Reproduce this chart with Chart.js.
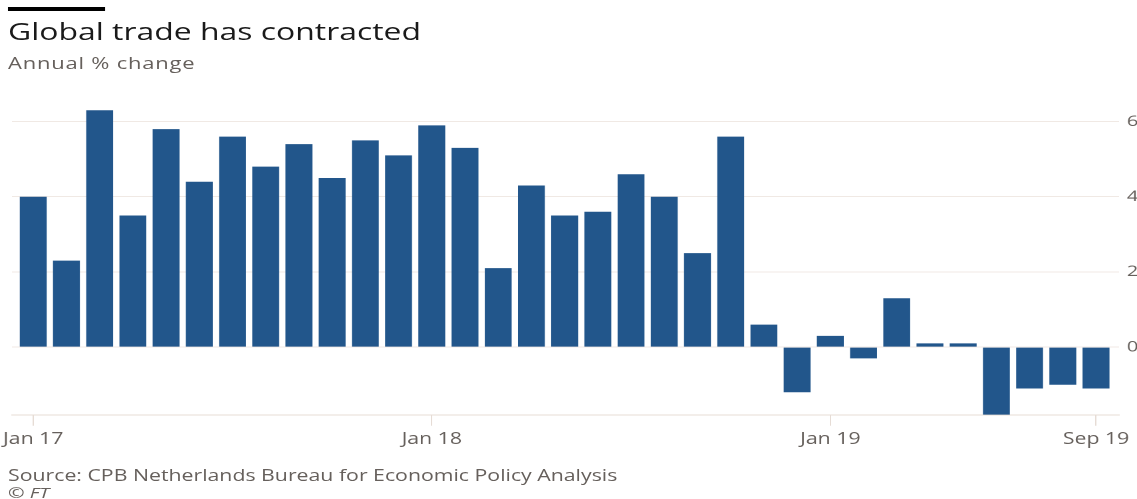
<!DOCTYPE html>
<html>
<head>
<meta charset="utf-8">
<script src="https://cdn.jsdelivr.net/npm/chart.js@4"></script>
<style>
  html, body { margin: 0; padding: 0; background: #fff; overflow: hidden; }
  body { width: 1137px; height: 499px; position: relative; font-family: "Open Sans", sans-serif; }
  /* the source graphic is stretched horizontally, so lay out at 855px and stretch */
  #stage { position: absolute; left: 0; top: 0; width: 855px; height: 499px; transform: scaleX(1.3298); transform-origin: 0 0; }
  .bar { position: absolute; left: 6px; top: 7px; width: 73px; height: 4px; background: #000; }
  .title { position: absolute; left: 6px; top: 14px; font-size: 24px; color: #1a1a1a; white-space: nowrap; }
  .sub { position: absolute; left: 6px; top: 51px; font-size: 16.5px; color: #66605c; letter-spacing: 0.6px; white-space: nowrap; }
  .src { position: absolute; left: 6px; top: 464px; font-size: 16px; color: #66605c; white-space: nowrap; }
  .ft { position: absolute; left: 6px; top: 482px; font-size: 15px; color: #66605c; font-style: italic; white-space: nowrap; }
  #wrap { position: absolute; left: -30px; top: 84px; width: 892px; height: 369px; }
</style>
</head>
<body>
<div id="stage">
<div class="bar"></div>
<div class="title">Global trade has contracted</div>
<div class="sub">Annual % change</div>
<div class="src">Source: CPB Netherlands Bureau for Economic Policy Analysis</div>
<div class="ft">© FT</div>
<div id="wrap"><canvas id="chart"></canvas></div>
</div>
<script>
// monthly, Jan 2017 .. Sep 2019
const months = ['Jan 17', 'Feb 17', 'Mar 17', 'Apr 17', 'May 17', 'Jun 17', 'Jul 17', 'Aug 17', 'Sep 17', 'Oct 17', 'Nov 17', 'Dec 17',
  'Jan 18', 'Feb 18', 'Mar 18', 'Apr 18', 'May 18', 'Jun 18', 'Jul 18', 'Aug 18', 'Sep 18', 'Oct 18', 'Nov 18', 'Dec 18',
  'Jan 19', 'Feb 19', 'Mar 19', 'Apr 19', 'May 19', 'Jun 19', 'Jul 19', 'Aug 19', 'Sep 19'];
const tradeChange = [4.0, 2.3, 6.3, 3.5, 5.8, 4.4, 5.6, 4.8, 5.4, 4.5, 5.5, 5.1,
  5.9, 5.3, 2.1, 4.3, 3.5, 3.6, 4.6, 4.0, 2.5, 5.6, 0.6, -1.2,
  0.3, -0.3, 1.3, 0.1, 0.1, -1.8, -1.1, -1.0, -1.1];
const xTickLabels = ['Jan 17', 'Jan 18', 'Jan 19', 'Sep 19'];
const yTicks = [0, 2, 4, 6];

const points = tradeChange.map((v, i) => ({ x: i, y: v }));
const xTickIdx = xTickLabels.map(l => months.indexOf(l));

new Chart(document.getElementById('chart'), {
  type: 'bar',
  data: {
    datasets: [{
      data: points,
      backgroundColor: '#22568b',
      borderWidth: 0,
      barPercentage: 0.81,
      categoryPercentage: 1
    }]
  },
  options: {
    responsive: true,
    maintainAspectRatio: false,
    animation: false,
    devicePixelRatio: 2,
    layout: { padding: { left: 39, top: 8, right: 0, bottom: 0 } },
    plugins: { legend: { display: false }, tooltip: { enabled: false } },
    scales: {
      x: {
        type: 'linear',
        offset: false,
        min: -0.64,
        max: 32.69,
        afterBuildTicks: s => { s.ticks = xTickIdx.map(v => ({ value: v })); },
        ticks: {
          callback: v => months[v],
          color: '#66605c',
          font: { family: 'Open Sans', size: 16 },
          padding: 4,
          maxRotation: 0,
          autoSkip: false
        },
        grid: { offset: false, drawOnChartArea: false, drawTicks: true, tickLength: 11, color: '#e6dcd5' },
        border: { color: '#e6dcd5', width: 1 }
      },
      y: {
        position: 'right',
        min: -1.8,
        max: 6.6,
        afterBuildTicks: s => { s.ticks = yTicks.map(v => ({ value: v })); },
        ticks: {
          color: '#66605c',
          font: { family: 'Open Sans', size: 15 },
          padding: 6
        },
        grid: { drawTicks: false, color: '#f0e9e4' },
        border: { display: false }
      }
    }
  }
});
</script>
</body>
</html>
